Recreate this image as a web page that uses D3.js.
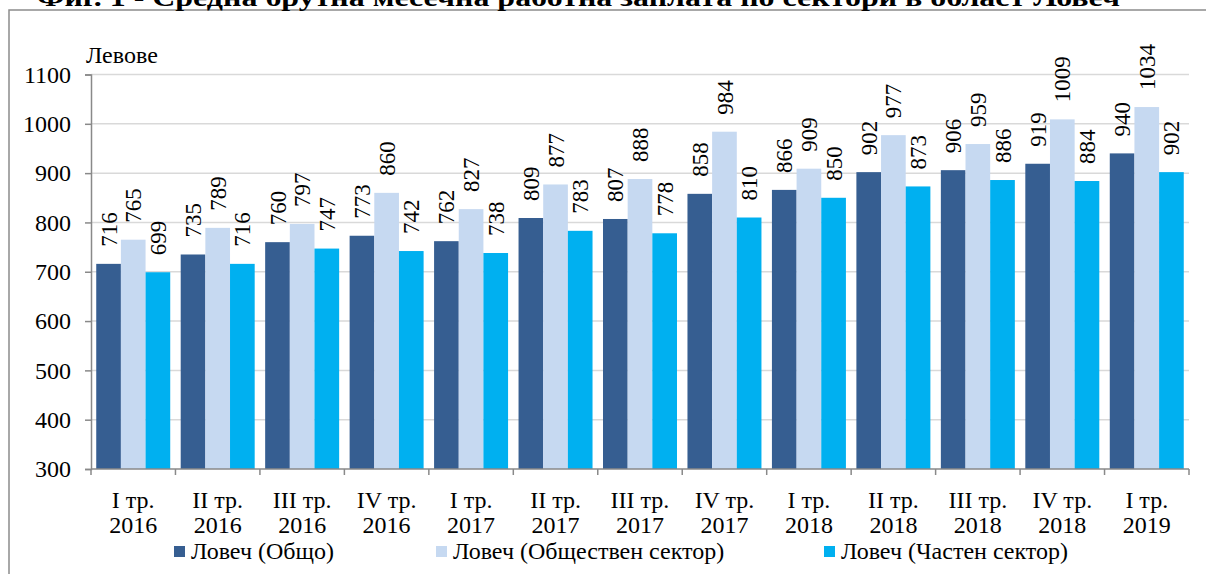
<!DOCTYPE html>
<html><head><meta charset="utf-8">
<script src="https://cdn.jsdelivr.net/npm/d3@7/dist/d3.min.js"></script>
<style>
html,body{margin:0;padding:0;background:#fff;}
svg text{font-family:"Liberation Serif","Times New Roman",serif;}
</style></head>
<body>
<svg id="c" width="1206" height="574"></svg>
<script>
const title = "Фиг. 1 - Средна брутна месечна работна заплата по сектори в област Ловеч";
const unitLabel = "Левове";
const categories = [
  ["I тр.","2016"],["II тр.","2016"],["III тр.","2016"],["IV тр.","2016"],
  ["I тр.","2017"],["II тр.","2017"],["III тр.","2017"],["IV тр.","2017"],
  ["I тр.","2018"],["II тр.","2018"],["III тр.","2018"],["IV тр.","2018"],
  ["I тр.","2019"]
];
const seriesNames = ["Ловеч (Общо)","Ловеч (Обществен сектор)","Ловеч (Частен сектор)"];
const totalVals   = [716,735,760,773,762,809,807,858,866,902,906,919,940];
const publicVals  = [765,789,797,860,827,877,888,984,909,977,959,1009,1034];
const privateVals = [699,716,747,742,738,783,778,810,850,873,886,884,902];
const yTicks = [300,400,500,600,700,800,900,1000,1100];
const colors = ["#365E91","#C6D9F1","#00B0F0"];

const FONT = "Liberation Serif";
const series = [totalVals, publicVals, privateVals];
const svg = d3.select("#c");

// frame
svg.append("rect").attr("x",9).attr("y",10).attr("width",1400).attr("height",800)
  .attr("fill","none").attr("stroke","#8c8c8c").attr("stroke-width",1.5);

// title (cut off at top, as in the reference)
svg.append("text").attr("x",37).attr("y",6).attr("font-weight","bold")
  .attr("font-family",FONT).attr("font-size",26).attr("fill","#000")
  .attr("textLength",1083).attr("lengthAdjust","spacingAndGlyphs").text(title);

const L=91, R=1189, T=74.5, B=469;
const keys = categories.map((c,i)=>i);
const x0 = d3.scaleBand().domain(keys).range([L,R]).paddingInner(0).paddingOuter(0);
const step = x0.bandwidth();
const gap = step*0.124;
const x1 = d3.scaleBand().domain([0,1,2]).range([gap/2, step-gap/2]);
const y = d3.scaleLinear().domain([300,1100]).range([B,T]);

// gridlines
svg.append("g").selectAll("line").data(yTicks.filter(v=>v>300)).join("line")
  .attr("x1",L).attr("x2",R).attr("y1",d=>y(d)).attr("y2",d=>y(d))
  .attr("stroke","#d9d9d9").attr("stroke-width",1.5);

// bars
const g = svg.append("g");
keys.forEach(i=>{
  series.forEach((s,j)=>{
    g.append("rect")
      .attr("x",x0(i)+x1(j)).attr("width",x1.bandwidth())
      .attr("y",y(s[i])).attr("height",B-y(s[i]))
      .attr("fill",colors[j]);
  });
});

// data labels
const lg = svg.append("g").attr("fill","#000");
keys.forEach(i=>{
  series.forEach((s,j)=>{
    const cx = x0(i)+x1(j)+x1.bandwidth()/2;
    const cy = y(s[i]) - 17;
    lg.append("text").attr("transform",`translate(${cx},${cy}) rotate(-90)`)
      .attr("font-family",FONT).attr("font-size",23)
      .attr("text-anchor","start").attr("dy","0.35em").text(s[i]);
  });
});

// y axis
const yAxis = d3.axisLeft(y).tickValues(yTicks).tickSize(6).tickPadding(14).tickFormat(d3.format("d"));
const ya = svg.append("g").attr("transform",`translate(${L},0)`).call(yAxis)
  .attr("font-family",FONT).attr("font-size",24);
ya.select(".domain").attr("stroke","#898989").attr("stroke-width",1.5);
ya.selectAll(".tick line").attr("stroke","#898989").attr("stroke-width",1.5);
ya.selectAll(".tick text").attr("font-size",24).attr("font-family",FONT).attr("fill","#000");

// x axis
const xa = svg.append("g");
xa.append("line").attr("x1",L).attr("x2",R).attr("y1",B).attr("y2",B)
  .attr("stroke","#898989").attr("stroke-width",1.5);
const bounds = keys.map(i=>x0(i)).concat([R]);
xa.selectAll("line.tk").data(bounds).join("line").attr("class","tk")
  .attr("x1",d=>d).attr("x2",d=>d).attr("y1",B).attr("y2",B+6)
  .attr("stroke","#898989").attr("stroke-width",1.5);
keys.forEach(i=>{
  const cx = x0(i)+step/2;
  const tx = xa.append("text").attr("text-anchor","middle").attr("font-size",24)
    .attr("font-family",FONT).attr("fill","#000");
  tx.append("tspan").attr("x",cx).attr("y",508).text(categories[i][0]);
  tx.append("tspan").attr("x",cx).attr("y",533).text(categories[i][1]);
});

// unit label
svg.append("text").attr("x",86).attr("y",63).attr("font-size",24).attr("font-family",FONT).text(unitLabel);

// legend
const legX = [174,436,824];
const leg = svg.append("g");
seriesNames.forEach((n,j)=>{
  leg.append("rect").attr("x",legX[j]).attr("y",546).attr("width",11).attr("height",11).attr("fill",colors[j]);
  leg.append("text").attr("x",legX[j]+17).attr("y",559).attr("font-size",24)
    .attr("font-family",FONT).text(n);
});
</script>
</body></html>
